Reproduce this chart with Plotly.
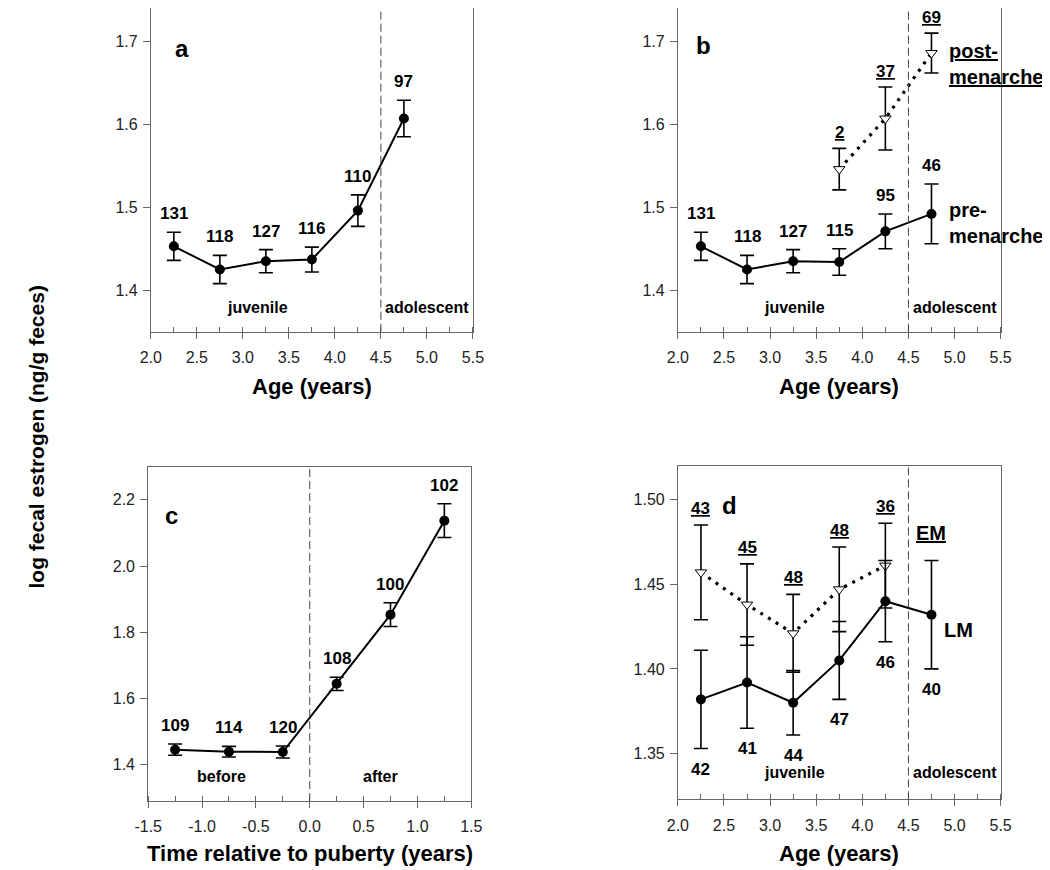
import plotly.graph_objects as go

# ---------------- data ----------------
age = [2.25, 2.75, 3.25, 3.75, 4.25, 4.75]

a_mean = [1.453, 1.425, 1.435, 1.437, 1.496, 1.607]
a_err = [0.017, 0.017, 0.014, 0.015, 0.019, 0.022]
a_n = ["131", "118", "127", "116", "110", "97"]

b_pre_mean = [1.453, 1.425, 1.435, 1.434, 1.471, 1.492]
b_pre_err = [0.017, 0.017, 0.014, 0.016, 0.021, 0.036]
b_pre_n = ["131", "118", "127", "115", "95", "46"]
b_post_age = [3.75, 4.25, 4.75]
b_post_mean = [1.546, 1.607, 1.686]
b_post_err = [0.025, 0.038, 0.024]
b_post_n = ["2", "37", "69"]

c_time = [-1.25, -0.75, -0.25, 0.25, 0.75, 1.25]
c_mean = [1.445, 1.439, 1.438, 1.644, 1.853, 2.137]
c_err = [0.017, 0.016, 0.018, 0.020, 0.036, 0.051]
c_n = ["109", "114", "120", "108", "100", "102"]
c_tickvals = [-1.5, -1.0, -0.5, 0.0, 0.5, 1.0, 1.5]
c_ticktext = ["-1.5", "-1.0", "-0.5", "0.0", "0.5", "1.0", "1.5"]

d_em_age = [2.25, 2.75, 3.25, 3.75, 4.25]
d_em_mean = [1.457, 1.438, 1.421, 1.447, 1.461]
d_em_err = [0.028, 0.024, 0.023, 0.025, 0.025]
d_em_n = ["43", "45", "48", "48", "36"]
d_lm_mean = [1.382, 1.392, 1.380, 1.405, 1.440, 1.432]
d_lm_err = [0.029, 0.027, 0.019, 0.023, 0.024, 0.032]
d_lm_n = ["42", "41", "44", "47", "46", "40"]

FONT = "Arial, Liberation Sans, Helvetica, sans-serif"
# the page body has an 8px margin: the figure starts 8px in from the window corner
OFF = 8
W, H = 1050 - OFF, 870 - OFF


def px_x(a, b):
    return [(a - OFF) / W, (b - OFF) / W]


def px_y(top, bottom):
    return [1 - (bottom - OFF) / H, min(1.0, 1 - (top - OFF) / H)]


def py(y):
    return 1 - (y - OFF) / H


fig = go.Figure()

err_style = dict(type="data", color="black", thickness=1.6, width=7, visible=True)
solid = dict(color="black", width=2)
dotted = dict(color="black", width=3.2, dash="3px,6px")
circ = dict(symbol="circle", size=10, color="black")
tri = dict(symbol="triangle-down", size=10, color="white", line=dict(color="black", width=1))


def add(x, y, err, xa, ya, line, marker):
    fig.add_trace(go.Scatter(
        x=x, y=y, mode="lines+markers", line=line, marker=marker,
        error_y=dict(array=err, **err_style), xaxis=xa, yaxis=ya,
        showlegend=False, hoverinfo="skip"))


# panel a
add(age, a_mean, a_err, "x", "y", solid, circ)
# panel b
add(age, b_pre_mean, b_pre_err, "x2", "y2", solid, circ)
add(b_post_age, b_post_mean, b_post_err, "x2", "y2", dotted, tri)
# panel c
add(c_time, c_mean, c_err, "x3", "y3", solid, circ)
# panel d
add(d_em_age, d_em_mean, d_em_err, "x4", "y4", dotted, tri)
add(age, d_lm_mean, d_lm_err, "x4", "y4", solid, circ)

ann = []
lab_font = dict(family=FONT, size=17, color="black")


def labels_above(xs, ys, es, texts, xr, yr, under=False, shift=7):
    for x, y, e, t in zip(xs, ys, es, texts):
        txt = f"<b>{'<u>' + t + '</u>' if under else t}</b>"
        ann.append(dict(x=x, y=y + e, xref=xr, yref=yr, text=txt, showarrow=False,
                        yanchor="bottom", yshift=shift, font=lab_font))


def labels_below(xs, ys, es, texts, xr, yr, shift=-9):
    for x, y, e, t in zip(xs, ys, es, texts):
        ann.append(dict(x=x, y=y - e, xref=xr, yref=yr, text=f"<b>{t}</b>", showarrow=False,
                        yanchor="top", yshift=shift, font=lab_font))


labels_above(age, a_mean, a_err, a_n, "x", "y")
labels_above(age, b_pre_mean, b_pre_err, b_pre_n, "x2", "y2")
labels_above(b_post_age, b_post_mean, b_post_err, b_post_n, "x2", "y2", under=True, shift=4)
labels_above(c_time, c_mean, c_err, c_n, "x3", "y3")
labels_above(d_em_age, d_em_mean, d_em_err, d_em_n, "x4", "y4", under=True, shift=5)
labels_below(age, d_lm_mean, d_lm_err, d_lm_n, "x4", "y4")

# panel letters
for letter, x, y, xr, yr in [("a", 2.34, 0.923, "x", "y domain"),
                             ("b", 2.28, 0.932, "x2", "y2 domain"),
                             ("c", -1.28, 0.90, "x3", "y3 domain"),
                             ("d", 2.56, 0.927, "x4", "y4 domain")]:
    ann.append(dict(x=x, y=y, xref=xr, yref=yr, text=f"<b>{letter}</b>", showarrow=False,
                    font=dict(family=FONT, size=24, color="black")))

# stage labels
stage_font = dict(family=FONT, size=16, color="black")
for t, x, y, xr, yr in [("juvenile", 3.16, 0.042, "x", "y domain"),
                        ("adolescent", 5.0, 0.042, "x", "y domain"),
                        ("juvenile", 3.27, 0.042, "x2", "y2 domain"),
                        ("adolescent", 5.0, 0.042, "x2", "y2 domain"),
                        ("before", -0.82, 0.042, "x3", "y3 domain"),
                        ("after", 0.655, 0.042, "x3", "y3 domain"),
                        ("juvenile", 3.27, 0.049, "x4", "y4 domain"),
                        ("adolescent", 5.0, 0.049, "x4", "y4 domain")]:
    ann.append(dict(x=x, y=y, xref=xr, yref=yr, text=f"<b>{t}</b>", showarrow=False,
                    font=stage_font))

grp_font = dict(family=FONT, size=20, color="black")
ann.append(dict(x=4.92, y=1.6725, xref="x2", yref="y2", xanchor="left",
                text="<b><u>post-</u><br><u>menarche</u></b>", showarrow=False,
                align="left", font=grp_font))
ann.append(dict(x=4.92, y=1.481, xref="x2", yref="y2", xanchor="left",
                text="<b>pre-<br>menarche</b>", showarrow=False, align="left", font=grp_font))
ann.append(dict(x=4.75, y=1.4805, xref="x4", yref="y4",
                text="<b><u>EM</u></b>", showarrow=False, font=grp_font))
ann.append(dict(x=5.045, y=1.4228, xref="x4", yref="y4",
                text="<b>LM</b>", showarrow=False, font=grp_font))

# shared y title
ann.append(dict(x=0, y=py(437), xref="paper", yref="paper", textangle=-90,
                xanchor="left", yanchor="middle",
                text="<b>log fecal estrogen (ng/g feces)</b>", showarrow=False,
                font=dict(family=FONT, size=21, color="black")))

# x-axis titles
title_font = dict(family=FONT, size=22, color="black")
for t, xr, yv in [("Age (years)", "x domain", py(386)),
                  ("Age (years)", "x2 domain", py(386)),
                  ("Time relative to puberty (years)", "x3 domain", py(853)),
                  ("Age (years)", "x4 domain", py(853))]:
    ann.append(dict(x=0.5, y=yv, xref=xr, yref="paper", text=f"<b>{t}</b>",
                    showarrow=False, yanchor="middle", font=title_font))

# dashed stage boundaries
shapes = []
for xr, yr, xv in [("x", "y domain", 4.5), ("x2", "y2 domain", 4.5),
                   ("x3", "y3 domain", 0.0), ("x4", "y4 domain", 4.5)]:
    shapes.append(dict(type="line", xref=xr, yref=yr, x0=xv, x1=xv, y0=0, y1=1,
                       line=dict(color="#444", width=1, dash="8px,4px")))

tick_font = dict(family=FONT, size=16, color="#222")
LINEC = "#666"


def xaxis(domain, rng, dtick, anchor, fmt, mirror=True, tickvals=None, ticktext=None):
    d = dict(domain=domain, range=rng, dtick=dtick, tick0=rng[0], anchor=anchor,
             showgrid=False, zeroline=False, showline=True, mirror=mirror,
             linecolor=LINEC, linewidth=1, ticks="outside", ticklen=6, tickcolor=LINEC,
             tickformat=fmt, tickfont=tick_font, ticklabelstandoff=5,
             minor=dict(ticks="inside", ticklen=5, dtick=dtick / 2, tick0=rng[0],
                        tickcolor=LINEC, showgrid=False))
    if tickvals is not None:
        d.update(tickmode="array", tickvals=tickvals, ticktext=ticktext)
    return d


def yaxis(domain, rng, tickvals, anchor, fmt):
    return dict(domain=domain, range=rng, tickvals=tickvals, anchor=anchor,
                showgrid=False, zeroline=False, showline=True, mirror=True,
                linecolor=LINEC, linewidth=1, ticks="outside", ticklen=7, tickcolor=LINEC,
                tickformat=fmt, tickfont=tick_font, ticklabelstandoff=2)


fig.update_layout(
    width=W, height=H, margin=dict(l=0, r=0, t=0, b=0),
    paper_bgcolor="white", plot_bgcolor="white",
    font=dict(family=FONT, color="black"),
    xaxis=xaxis(px_x(140, 470), [2.0, 5.5], 0.5, "y", ".1f", mirror=False),
    yaxis=yaxis(px_y(OFF, 331.7), [1.35, 1.7403], [1.4, 1.5, 1.6, 1.7], "x", ".1f"),
    xaxis2=xaxis(px_x(680, 1010.7), [2.0, 5.5], 0.5, "y2", ".1f", mirror=False),
    yaxis2=yaxis(px_y(OFF, 331.7), [1.35, 1.7403], [1.4, 1.5, 1.6, 1.7], "x2", ".1f"),
    xaxis3=xaxis(px_x(137.3, 468.3), [-1.5, 1.5], 0.5, "y3", ".1f",
                 tickvals=c_tickvals, ticktext=c_ticktext),
    yaxis3=yaxis(px_y(466.7, 801), [1.29, 2.30], [1.4, 1.6, 1.8, 2.0, 2.2], "x3", ".1f"),
    xaxis4=xaxis(px_x(680, 1010.7), [2.0, 5.5], 0.5, "y4", ".1f"),
    yaxis4=yaxis(px_y(465.7, 799.3), [1.323, 1.52], [1.35, 1.40, 1.45, 1.50], "x4", ".2f"),
    annotations=ann, shapes=shapes,
)

fig.write_html("out.html")
